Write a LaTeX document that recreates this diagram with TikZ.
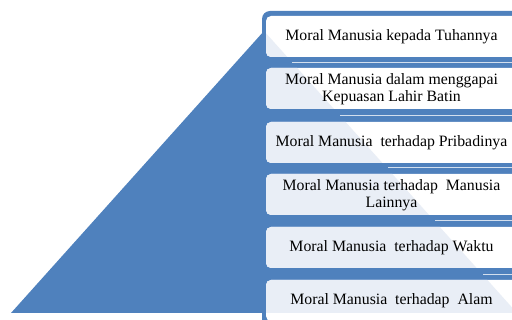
\documentclass[tikz,border=0pt]{standalone}
\usepackage{fontspec}
\setmainfont{Liberation Serif}
\definecolor{pyrblue}{HTML}{4F81BD}
\definecolor{pyrlight}{HTML}{E9EEF6}
\definecolor{gapline}{HTML}{D3DFEE}
\tikzset{
  lvltext/.style={align=center,inner sep=0pt,font=\fontsize{15.8}{16.5}\selectfont},
  lvlbox/.style={rounded corners=5pt}
}
\begin{document}
\begin{tikzpicture}[x=1pt,y=-1pt]
%\draw[step=10,gray,very thin] (0,0) grid (512,320); %background grid
\clip (0,0) rectangle (512,320);

% pyramid and backdrop
\fill[pyrblue] (264,31) -- (517,313) -- (11,313) -- cycle;
\fill[pyrblue,rounded corners=8pt] (262,11) rectangle (540,345);

% level boxes
\foreach \top in {16,68,122,174,227,280}
  \fill[white,lvlbox] (266,\top) rectangle (517,\top+41);
\begin{scope}
  \clip (264,31) -- (517,313) -- (11,313) -- cycle;
  \foreach \top in {16,68,122,174,227,280}
    \fill[pyrlight,lvlbox] (266,\top) rectangle (517,\top+41);
\end{scope}

% thin lines in the gaps
\draw[gapline,line width=1pt] (292,62.5) -- (512,62.5);
\draw[gapline,line width=1pt] (340,116) -- (512,116);
\draw[gapline,line width=1pt] (388,167.5) -- (512,167.5);
\draw[gapline,line width=1pt] (435,221) -- (512,221);
\draw[gapline,line width=1pt] (483,275) -- (512,275);

\node[lvltext] (tuhan) at (391.5,36.5) {Moral Manusia kepada Tuhannya};
\node[lvltext] (batin) at (391.5,89) {Moral Manusia dalam menggapai\\Kepuasan Lahir Batin};
\node[lvltext] (pribadi) at (391.5,142.5) {Moral Manusia\ \ terhadap Pribadinya};
\node[lvltext] (sesama) at (391.5,195) {Moral Manusia terhadap\ \ Manusia\\Lainnya};
\node[lvltext] (waktu) at (391.5,247.5) {Moral Manusia\ \ terhadap Waktu};
\node[lvltext] (alam) at (391.5,300.5) {Moral Manusia\ \ terhadap\ \ Alam};

\end{tikzpicture}
\end{document}
